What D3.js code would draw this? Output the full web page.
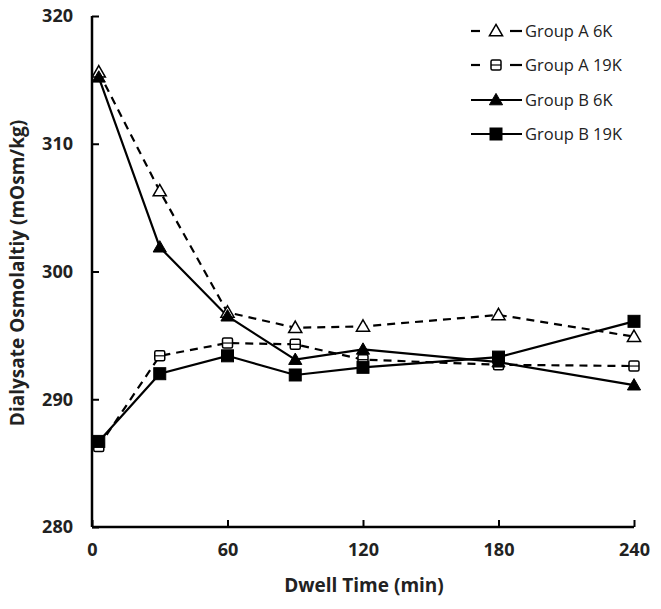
<!DOCTYPE html>
<html><head><meta charset="utf-8">
<script src="https://cdn.jsdelivr.net/npm/d3@7"></script>
<style>
html,body{margin:0;padding:0;background:#fff;}
svg{display:block;font-family:"Open Sans",sans-serif;}
</style></head>
<body><svg id="c" width="661" height="609"></svg>
<script>
const times = [3, 30, 60, 90, 120, 180, 240];
const groupA6K  = [315.6, 306.3, 296.8, 295.6, 295.7, 296.6, 294.9];
const groupA19K = [286.3, 293.4, 294.4, 294.3, 293.1, 292.7, 292.6];
const groupB6K  = [315.2, 301.9, 296.5, 293.1, 293.9, 292.9, 291.1];
const groupB19K = [286.7, 292.0, 293.4, 291.9, 292.5, 293.3, 296.1];
const seriesNames = ["Group A 6K", "Group A 19K", "Group B 6K", "Group B 19K"];
const xTicks = [0, 60, 120, 180, 240];
const yTicks = [280, 290, 300, 310, 320];

const series = [
  {name: seriesNames[0], values: groupA6K, dashed: true, shape: "tri", filled: false},
  {name: seriesNames[1], values: groupA19K, dashed: true, shape: "sq", filled: false},
  {name: seriesNames[2], values: groupB6K, dashed: false, shape: "tri", filled: true},
  {name: seriesNames[3], values: groupB19K, dashed: false, shape: "sq", filled: true}
];

const FONT = "'Open Sans', sans-serif";
const svg = d3.select("#c");
const L = 92, R = 634, T = 16, B = 527;
const x = d3.scaleLinear().domain([0, 240]).range([L, R]);
const y = d3.scaleLinear().domain([280, 320]).range([B, T]);

const xa = svg.append("g").attr("transform", `translate(0,${B})`)
  .call(d3.axisBottom(x).tickValues(xTicks).tickSize(-7).tickPadding(16).tickSizeOuter(0));
const ya = svg.append("g").attr("transform", `translate(${L},0)`)
  .call(d3.axisLeft(y).tickValues(yTicks).tickSize(-7).tickPadding(19).tickSizeOuter(0));
[xa, ya].forEach(a => {
  a.selectAll("path.domain").attr("stroke", "#000").attr("stroke-width", 2.5);
  a.selectAll(".tick line").attr("stroke", "#000").attr("stroke-width", 2);
  a.selectAll(".tick text").attr("fill", "#222").style("font-size", "18px")
    .style("font-weight", "bold").style("font-family", FONT);
});
xa.select("path.domain").attr("d", `M${L},0H${R}`);
ya.select("path.domain").attr("d", `M0,${B}V${T}`);

svg.append("text").attr("x", 364).attr("y", 592).attr("text-anchor", "middle")
  .style("font-size", "19px").style("font-weight", "bold").attr("fill", "#222")
  .text("Dwell Time (min)");
svg.append("text").attr("transform", `translate(24,${273}) rotate(-90)`)
  .attr("text-anchor", "middle").style("font-size", "19px").style("font-weight", "bold")
  .attr("fill", "#222").text("Dialysate Osmolaltiy (mOsm/kg)");

const triPath = d3.symbol().type(d3.symbolTriangle).size(75);
function marker(g, s, cx, cy) {
  if (s.shape === "tri") {
    g.append("path").attr("d", triPath()).attr("transform", `translate(${cx},${cy + 1})`)
      .attr("fill", s.filled ? "#000" : "#fff").attr("stroke", "#000").attr("stroke-width", s.filled ? 1 : 1.5);
  } else {
    const w = s.filled ? 12 : 10;
    g.append("rect").attr("x", cx - w / 2).attr("y", cy - w / 2).attr("width", w).attr("height", w)
      .attr("rx", s.filled ? 0 : 1.5)
      .attr("fill", s.filled ? "#000" : "#fff").attr("stroke", "#000").attr("stroke-width", s.filled ? 1 : 1.5);
    if (!s.filled) {
      g.append("line").attr("x1", cx - w / 2).attr("x2", cx + w / 2).attr("y1", cy).attr("y2", cy)
        .attr("stroke", "#000").attr("stroke-width", 1.2);
    }
  }
}

const line = d3.line().x((d, i) => x(times[i])).y(d => y(d));
const plot = svg.append("g");
series.forEach(s => {
  plot.append("path").datum(s.values).attr("d", line).attr("fill", "none")
    .attr("stroke", "#000").attr("stroke-width", 2.2)
    .attr("stroke-dasharray", s.dashed ? "8,6" : null);
});
series.forEach(s => {
  const g = plot.append("g");
  s.values.forEach((v, i) => marker(g, s, x(times[i]), y(v)));
});

const legY = [31, 65, 100, 134];
const leg = svg.append("g");
series.forEach((s, i) => {
  const g = leg.append("g");
  const yy = legY[i];
  if (s.dashed) {
    g.append("line").attr("x1", 471).attr("x2", 480).attr("y1", yy).attr("y2", yy).attr("stroke", "#000").attr("stroke-width", 2.2);
    g.append("line").attr("x1", 510).attr("x2", 522).attr("y1", yy).attr("y2", yy).attr("stroke", "#000").attr("stroke-width", 2.2);
  } else {
    g.append("line").attr("x1", 471).attr("x2", 522).attr("y1", yy).attr("y2", yy).attr("stroke", "#000").attr("stroke-width", 2.2);
  }
  marker(g, s, 496, yy);
  g.append("text").attr("x", 525).attr("y", yy).attr("dy", "0.35em")
    .style("font-size", "16.5px").attr("fill", "#222").text(s.name);
});
</script></body></html>
